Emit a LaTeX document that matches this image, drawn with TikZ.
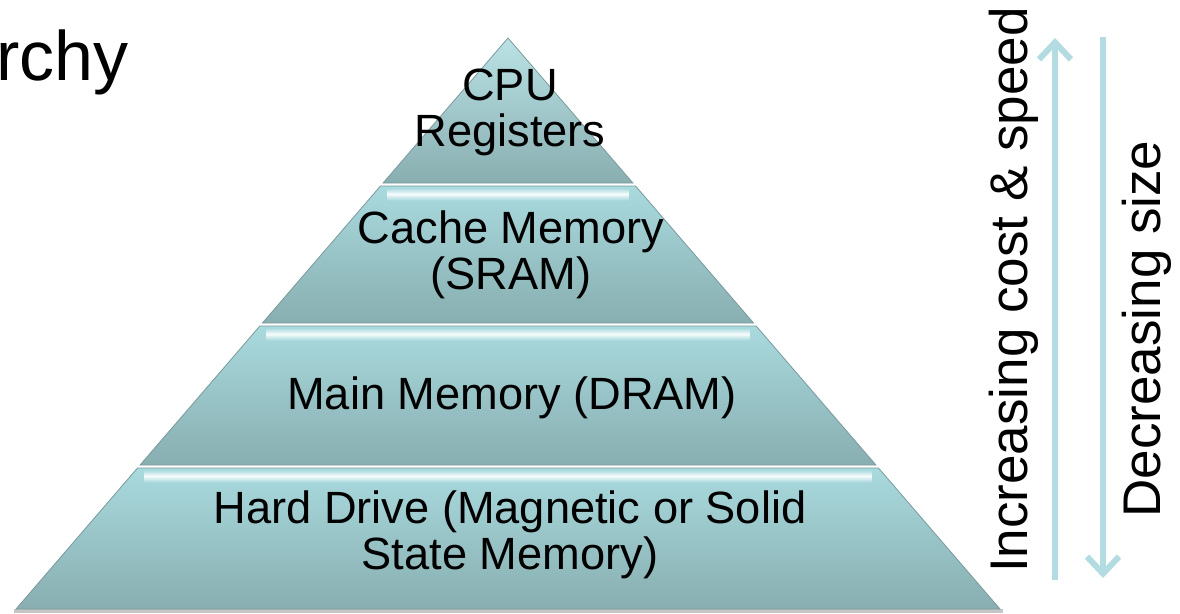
\documentclass[tikz,border=0pt]{standalone}
\usepackage{fontspec}
\setmainfont{Liberation Sans}
\usetikzlibrary{arrows.meta,calc}
\definecolor{tierTop}{HTML}{A9DADE}
\definecolor{tierBot}{HTML}{88AEB0}
\definecolor{tierEdge}{HTML}{7A9A9C}
\definecolor{arrowc}{HTML}{B2DCE1}
\newcommand\drawtier[2]{%
  \pgfmathsetmacro\tLx{508-0.8616*(#1-38)}%
  \pgfmathsetmacro\tRx{508+0.8616*(#1-38)}%
  \pgfmathsetmacro\bLx{508-0.8616*(#2-38)}%
  \pgfmathsetmacro\bRx{508+0.8616*(#2-38)}%
  \shadedraw[top color=tierTop, bottom color=tierBot, draw=tierEdge, line width=0.8pt]
    (\tLx,#1) -- (\tRx,#1) -- (\bRx,#2) -- (\bLx,#2) -- cycle;
  \pgfmathsetmacro\hLx{508-0.8616*(#1+6-38)+12}%
  \pgfmathsetmacro\hRx{508+0.8616*(#1+6-38)-12}%
  \shade[top color=tierTop, bottom color=tierTop, middle color=white!90!tierTop]
    (\hLx,#1+2) rectangle (\hRx,#1+14);
}
\tikzset{
  lbl/.style={font=\fontsize{45.2}{46}\selectfont, align=center, inner sep=0pt, text=black},
  side/.style={font=\fontsize{53}{55}\selectfont, inner sep=0pt, rotate=90, anchor=base, text=black},
  arr/.style={draw=arrowc, line width=6pt, -{Straight Barb[length=17pt,width=32pt]}},
}
\begin{document}
\begin{tikzpicture}[x=1pt,y=-1pt]
\useasboundingbox (0,0) rectangle (1180,613);
\fill[white] (0,0) rectangle (1180,613);
% shadow under base
\fill[gray!45] (14,609) rectangle (1003,613);
% top triangle
\shadedraw[top color=tierTop!80!white, bottom color=tierBot, draw=tierEdge, line width=0.8pt]
  (508,38) -- (632.9,183) -- (383.1,183) -- cycle;
\drawtier{186}{323}
\drawtier{326}{465}
\drawtier{468}{609}
% labels
\node[lbl] (cpu) at (510,112) {CPU\\Registers};
\node[lbl] (cache) at (511,255) {Cache Memory\\(SRAM)};
\node[lbl, anchor=base] (main) at (512,409) {Main Memory (DRAM)};
\node[lbl] (hdd) at (510,535) {Hard Drive (Magnetic or Solid\\State Memory)};
% title fragment
\node[anchor=base west, font=\fontsize{70}{70}\selectfont, inner sep=0pt] (title) at (-4,80) {rchy};
% side arrows
\coordinate (upS) at (1055,580);
\coordinate (upE) at (1055,38);
\coordinate (dnS) at (1103,37);
\coordinate (dnE) at (1103,578);
\draw[arr] (upS) -- (upE);
\draw[arr] (dnS) -- (dnE);
\node[side] (inc) at (1027,290) {Increasing cost \& speed};
\node[side] (dec) at (1160,329) {Decreasing size};
\end{tikzpicture}
\end{document}
